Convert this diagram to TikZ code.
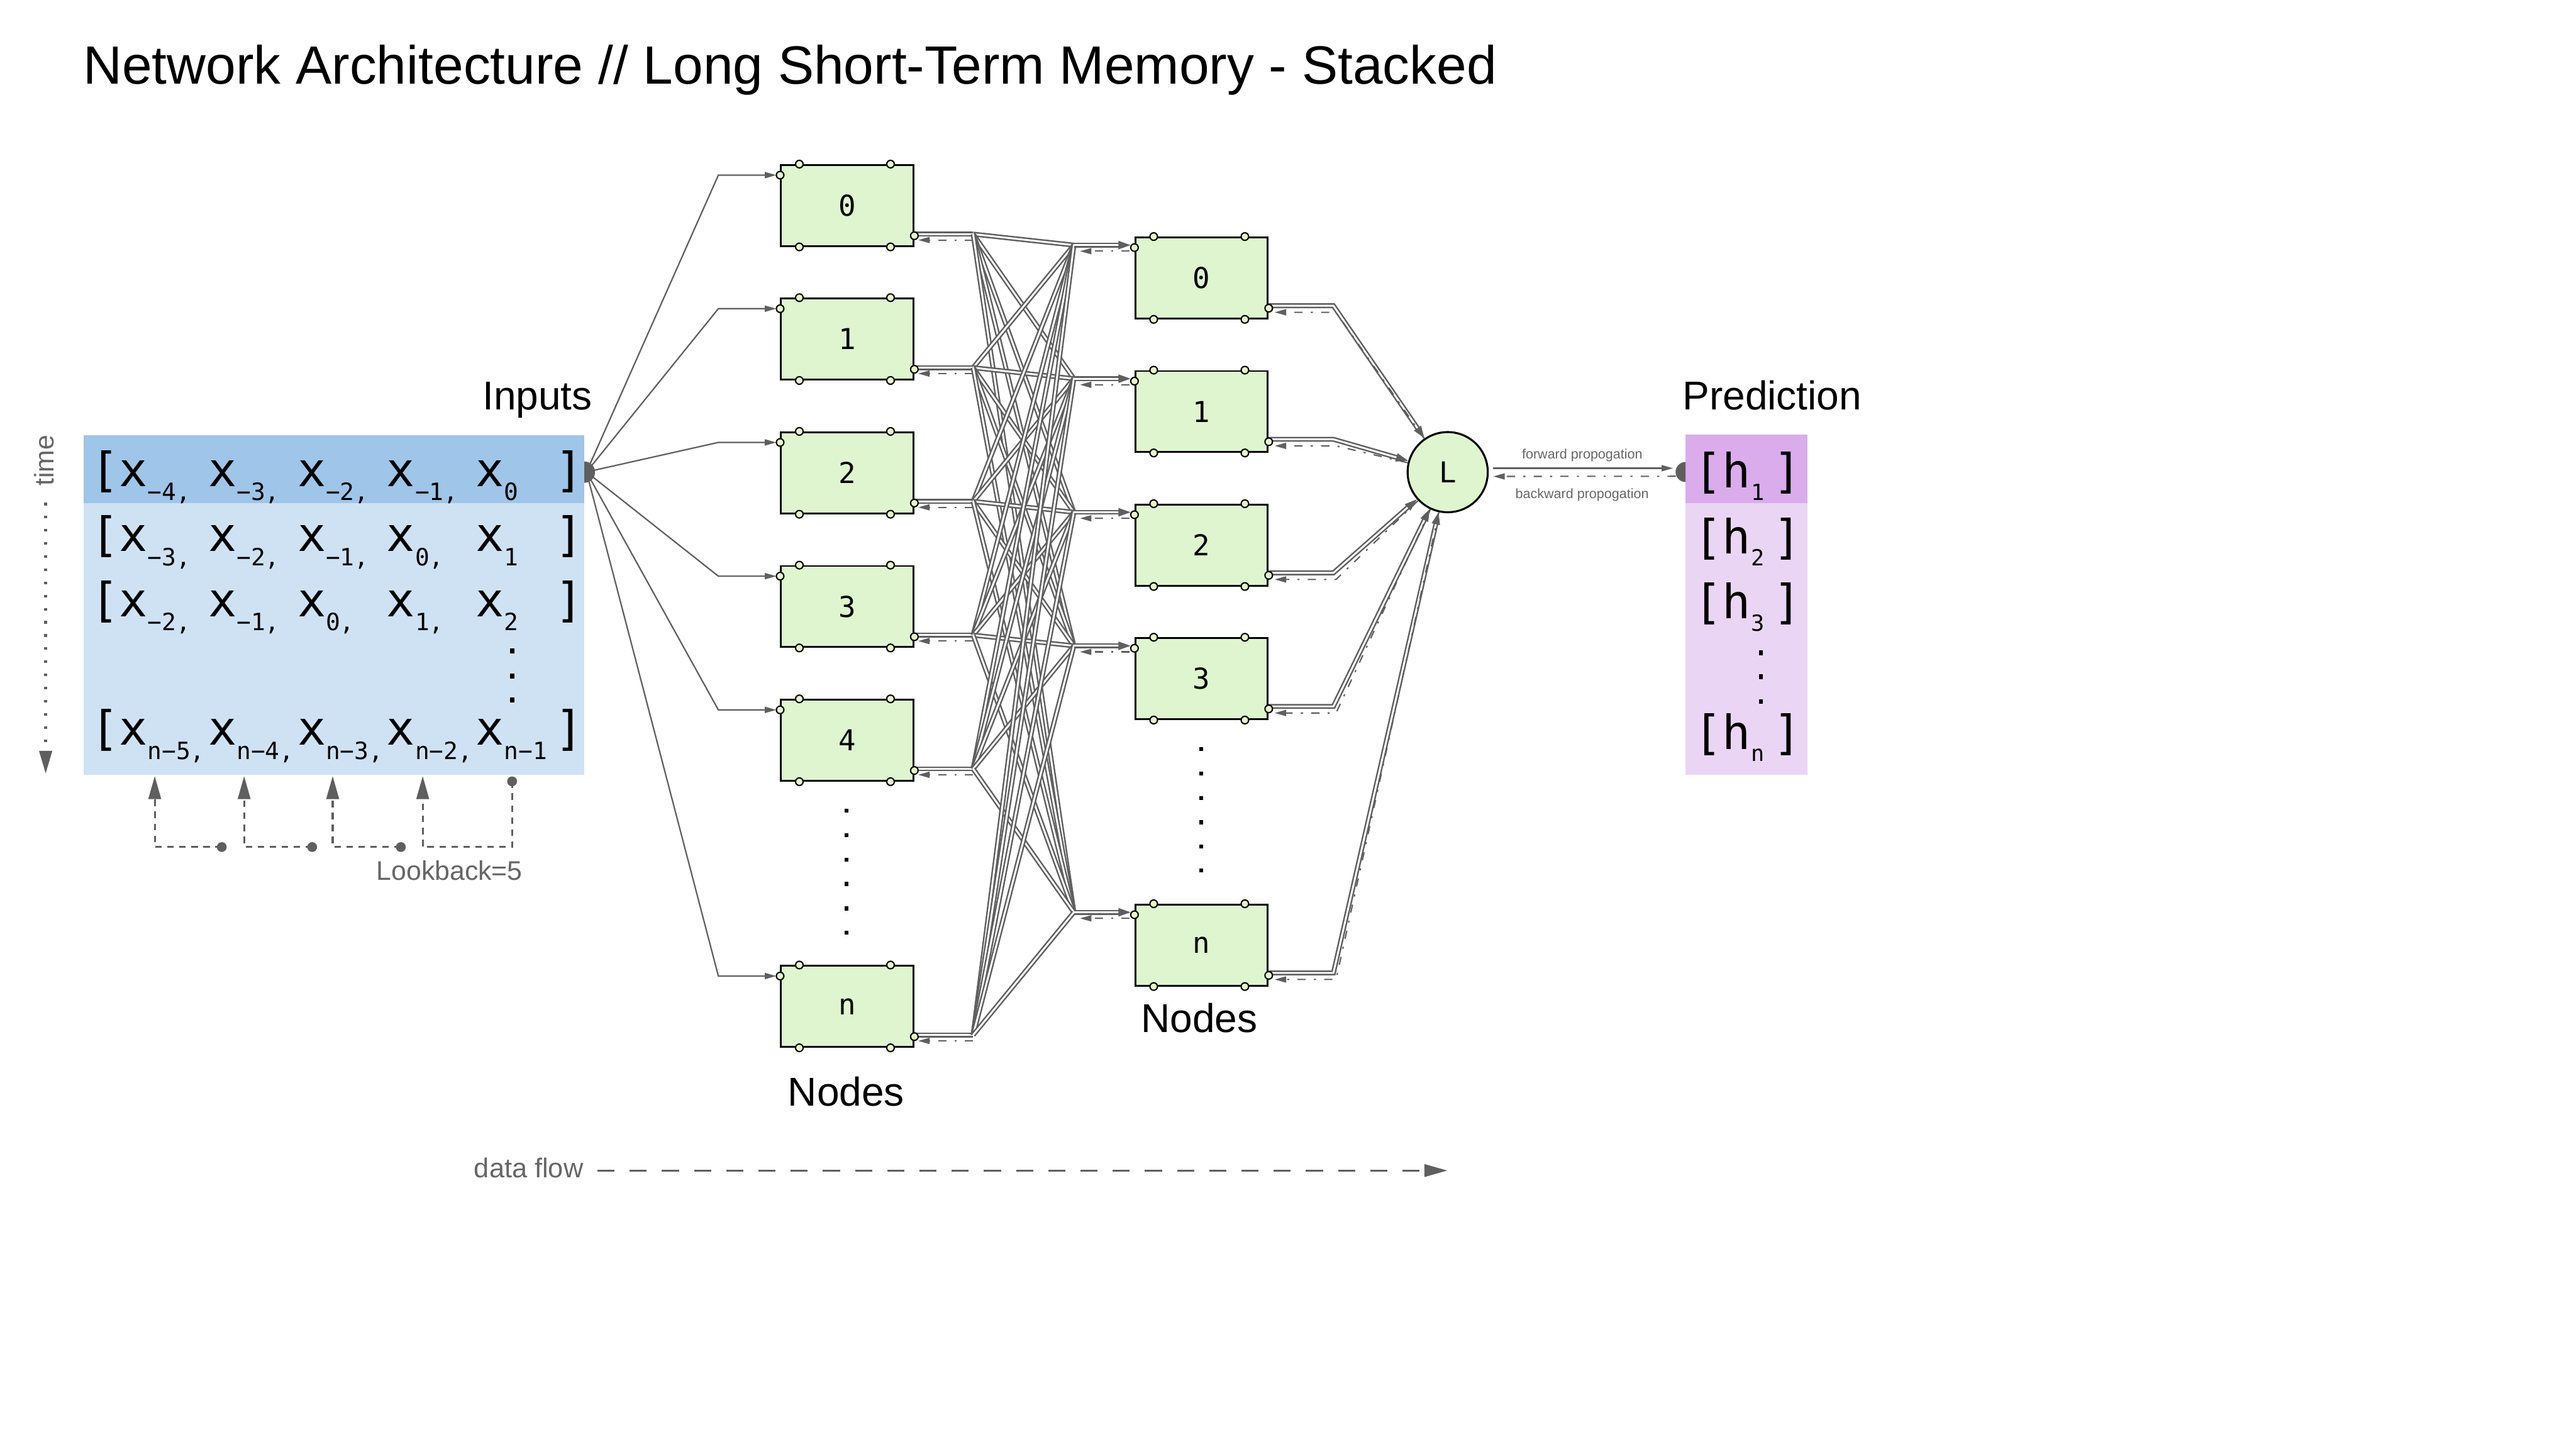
\documentclass[tikz,border=0pt]{standalone}
\usepackage{fontspec}
\setmainfont{Liberation Sans}
\newfontfamily\monofont{DejaVu Sans Mono}
\usetikzlibrary{arrows.meta}

\definecolor{linegray}{HTML}{5F5F5F}
\definecolor{textgray}{HTML}{666666}
\definecolor{rowdark}{HTML}{9FC5E8}
\definecolor{rowlight}{HTML}{CFE2F3}
\definecolor{preddark}{HTML}{DAACEC}
\definecolor{predlight}{HTML}{EBD5F4}
\definecolor{cellgreen}{HTML}{DEF5CF}
\definecolor{portfill}{HTML}{E6F5C8}

\newcommand{\xsub}[1]{\raisebox{-8.5pt}{\fontsize{14.5}{14.5}\selectfont#1}}
\newcommand{\xent}[2][54.3pt]{\makebox[#1][l]{x\xsub{#2}}}
\newcommand{\hsub}[1]{\raisebox{-7.5pt}{\fontsize{13.5}{13.5}\selectfont#1}}

\tikzset{
  cell/.style={draw=black, line width=1.1pt, fill=cellgreen, minimum width=80.6pt,
    minimum height=49.3pt, inner sep=0pt, font=\monofont\fontsize{17.5}{17.5}\selectfont},
  lossnode/.style={circle, draw=black, line width=1.2pt, fill=cellgreen, minimum size=48.8pt,
    inner sep=0pt, font=\monofont\fontsize{17.5}{17.5}\selectfont},
  port/.style={draw=black, line width=0.8pt, fill=portfill},
  feed/.style={draw=linegray, line width=0.85pt, -{Triangle[length=7pt,width=3.7pt]}, shorten >=2.3pt},
  mesh/.style={draw=linegray, line width=0.95pt, double=white, double distance=1.1pt},
  meshtip/.style={-{Triangle[length=7.5pt,width=5pt]}},
  back/.style={draw=linegray, line width=0.8pt, dash pattern=on 5pt off 5pt on 1.3pt off 5pt,
    -{Triangle[length=7pt,width=3.7pt]}},
  bigtip/.style={-{Triangle[length=14pt,width=7.6pt]}},
  lookback/.style={draw=linegray, line width=1.2pt, dash pattern=on 4pt off 3.3pt, bigtip},
  heading/.style={inner sep=0pt, anchor=base west, font=\fontsize{24.5}{24.5}\selectfont},
  note/.style={inner sep=0pt, text=textgray, font=\fontsize{16.4}{16.4}\selectfont},
  matrow/.style={inner sep=0pt, anchor=base west, font=\monofont\fontsize{28.7}{28.7}\selectfont},
  proptext/.style={inner sep=0pt, anchor=base, text=textgray, font=\fontsize{8.25}{8.25}\selectfont}
}

\begin{document}
\begin{tikzpicture}[x=1pt,y=1pt]
\useasboundingbox (0,0) rectangle (1568,-882);

\node[inner sep=0pt, anchor=base west, font=\fontsize{32.8}{32.8}\selectfont] (title) at (50.5,-51)
  {Network Architecture // Long Short-Term Memory - Stacked};

% input windows
\fill[rowlight] (50.8,-265) rectangle (355.7,-471.5);
\fill[rowdark] (50.8,-265) rectangle (355.7,-306.2);
\node[matrow] (row1) at (55,-296) {[\xent{−4,}\xent{−3,}\xent{−2,}\xent{−1,}\xent[48pt]{0}]};
\node[matrow] (row2) at (55,-335.7) {[\xent{−3,}\xent{−2,}\xent{−1,}\xent{0,}\xent[48pt]{1}]};
\node[matrow] (row3) at (55,-375.2) {[\xent{−2,}\xent{−1,}\xent{0,}\xent{1,}\xent[48pt]{2}]};
\node[matrow] (row4) at (55,-453.6) {[\xent{n−5,}\xent{n−4,}\xent{n−3,}\xent{n−2,}\xent[48pt]{n−1}]};
\foreach \y in {396.3,411.5,426.2}
  \fill (310.3,{-\y+1.5}) rectangle ++(2.8,-3);
\node[heading] (inputs) at (293.5,-249.5) {Inputs};

\node[note, rotate=90, anchor=base west] (timetext) at (32.6,-296) {time};
\draw[linegray, line width=1.8pt, dash pattern=on 1.6pt off 6.4pt, bigtip] (27.8,-306) -- (27.8,-471);

\coordinate (lb1) at (94.2,-472.4);
\coordinate (lb2) at (148.6,-472.4);
\coordinate (lb3) at (202.5,-472.4);
\coordinate (lb4) at (257.3,-472.4);
\fill[linegray] (311.7,-475.6) circle (3);
\draw[lookback] (311.7,-475.6) -- (311.7,-515.6) -| (lb4);
\foreach \s/\t in {244/lb3,190/lb2,135/lb1} {
  \fill[linegray] (\s,-515.6) circle (3);
  \draw[lookback] (\s,-515.6) -| (\t);
}
\node[note, anchor=base] (lookbacktext) at (273.6,-535.7) {Lookback=5};

% prediction column
\fill[predlight] (1025.9,-264.7) rectangle (1100.3,-471.7);
\fill[preddark] (1025.9,-264.7) rectangle (1100.3,-306.4);
\node[matrow] (h1) at (1031,-297) {[h\hsub{1}\hspace{5.5pt}]};
\node[matrow] (h2) at (1031,-337) {[h\hsub{2}\hspace{5.5pt}]};
\node[matrow] (h3) at (1031,-376.5) {[h\hsub{3}\hspace{5.5pt}]};
\node[matrow] (hn) at (1031,-456) {[h\hsub{n}\hspace{5.5pt}]};
\foreach \y in {397.5,412,427}
  \fill (1070.7,{-\y+1.5}) rectangle ++(2.3,-3);
\node[heading] (prediction) at (1024,-249.5) {Prediction};

% two layers of cells
\node[cell] (a0) at (515.7,-125.1) {0};
\node[cell] (a1) at (515.7,-206.4) {1};
\node[cell] (a2) at (515.7,-287.8) {2};
\node[cell] (a3) at (515.7,-369.2) {3};
\node[cell] (a4) at (515.7,-450.6) {4};
\node[cell] (an) at (515.7,-612.6) {n};
\node[cell] (b0) at (731.4,-169.2) {0};
\node[cell] (b1) at (731.4,-250.5) {1};
\node[cell] (b2) at (731.4,-331.8) {2};
\node[cell] (b3) at (731.4,-413.1) {3};
\node[cell] (bn) at (731.4,-575.3) {n};
\node[lossnode] (L) at (881.2,-287.4) {L};
\node[heading] (nodesa) at (479.4,-673.1) {Nodes};
\node[heading] (nodesb) at (694.4,-628.4) {Nodes};

\foreach \y in {493.4,508.3,523.4,538,553,567.8}
  \fill (514.2,{-\y+1.2}) rectangle ++(2.3,-2.4);
\foreach \y in {455.8,470.9,485.7,500.5,515.2,529.9}
  \fill (729.9,{-\y+1.2}) rectangle ++(2.3,-2.4);

\foreach \n in {a0,a1,a2,a3,a4,an,b0,b1,b2,b3,bn} {
  \coordinate (in\n) at ([yshift=-6.7]\n.north west);
  \coordinate (out\n) at ([yshift=6.8]\n.south east);
}
\foreach \n in {a0,a1,a2,a3,a4,an}
  \coordinate (fo\n) at ([shift={(35.8,1)}]out\n);
\foreach \n in {b0,b1,b2,b3,bn}
  \coordinate (fi\n) at ([shift={(-36.9,1.5)}]in\n);

% inputs to first layer
\coordinate (indot) at (357,-287.3);
\foreach \n in {a0,a1,a2,a3,a4,an}
  \draw[feed] (indot) -- ([xshift=-37.6]in\n) -- (in\n);
\fill[linegray] (355.7,-280.9) arc (90:-90:6.5) -- cycle;

% first layer to second layer
\foreach \a in {a0,a1,a2,a3,a4,an}
  \draw[mesh] ([yshift=1]out\a) -- (fo\a);
\foreach \a in {a0,a1,a2,a3,a4,an}
  \foreach \b in {b0,b1,b2,b3,bn}
    \draw[mesh] (fo\a) -- (fi\b);
\foreach \b in {b0,b1,b2,b3,bn}
  \draw[mesh, meshtip, shorten >=2.3pt] (fi\b) -- ([yshift=1.5]in\b);
\foreach \a in {a0,a1,a2,a3,a4,an}
  \draw[back] ([shift={(35.8,-2.6)}]out\a) -- ([shift={(2.3,-2.6)}]out\a);
\foreach \b in {b0,b1,b2,b3,bn}
  \draw[back] ([shift={(-2.9,-2.2)}]in\b) -- ([shift={(-33.2,-2.2)}]in\b);

% second layer to loss
\foreach \b in {b0,b1,b2,b3,bn} {
  \draw[mesh, meshtip] ([yshift=1.5]out\b) -- ([shift={(39.4,1.5)}]out\b) -- (L);
  \draw[back] (L) -- ([shift={(41,-2.5)}]out\b) -- ([shift={(3.6,-2.5)}]out\b);
}

\foreach \n in {a0,a1,a2,a3,a4,an,b0,b1,b2,b3,bn} {
  \foreach \dx in {11.7,67.2} {
    \draw[port] ([xshift=\dx]\n.north west) circle (2.3);
    \draw[port] ([xshift=\dx]\n.south west) circle (2.3);
  }
  \draw[port] (in\n) circle (2.3);
  \draw[port] (out\n) circle (2.3);
}

% loss to prediction
\coordinate (pdot) at (1026,-287.3);
\draw[draw=linegray, line width=0.85pt, -{Triangle[length=7pt,width=3.7pt]}]
  ([shift={(2.7,2.4)}]L.east) -- ([shift={(-7.6,2.3)}]pdot);
\draw[back] ([shift={(-6,-2.6)}]pdot) -- ([shift={(2.7,-2.6)}]L.east);
\fill[linegray] (1026,-281.2) arc (90:270:6.1) -- cycle;
\node[proptext] (fwdtext) at (963.1,-279.2) {forward propogation};
\node[proptext] (backtext) at (963,-303.5) {backward propogation};

% data flow
\node[note, anchor=base west, font=\fontsize{16.6}{16.6}\selectfont] (flowtext) at (288.4,-716.8) {data flow};
\draw[linegray, line width=1.2pt, dash pattern=on 10.4pt off 9.2pt, bigtip]
  ([shift={(8.4,4.3)}]flowtext.base east) -- (881,-712.5);
\end{tikzpicture}
\end{document}
